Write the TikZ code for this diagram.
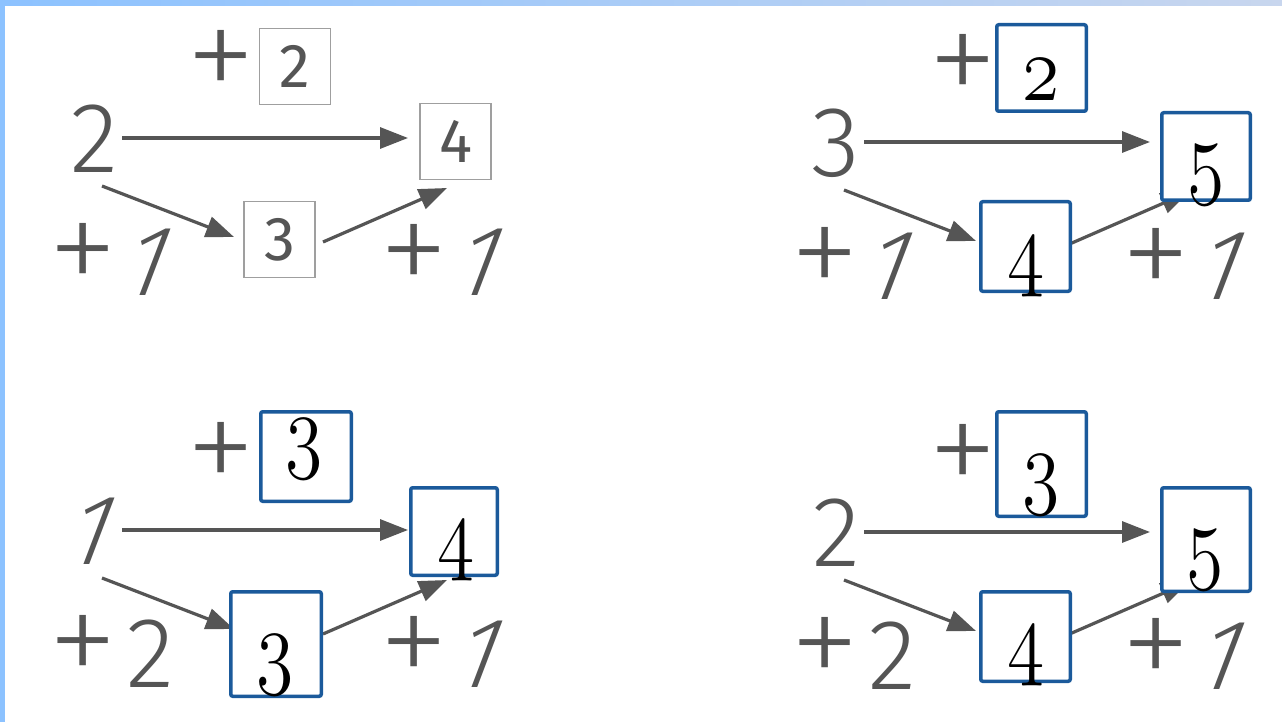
\RequirePackage{fix-cm}
\documentclass[tikz,border=0pt]{standalone}
\usepackage{fontspec}
\usepackage{graphicx}
\usetikzlibrary{arrows.meta}
\newfontfamily\wsfont{Fira Sans Light}
\newfontfamily\plusfont{Fira Sans ExtraLight}
\newfontfamily\boxfont{Fira Sans}
\definecolor{wsgray}{HTML}{555555}
\definecolor{bbox}{HTML}{1B5A9B}
\definecolor{barblue}{HTML}{8CC2FF}
\definecolor{barpale}{HTML}{C8D6EE}
\newcommand\osn[1]{\scalebox{0.8}[1]{\usefont{OML}{cmm}{m}{it}#1}}
\tikzset{
  wsnum/.style={text=wsgray, font=\wsfont\fontsize{100}{100}\selectfont, inner sep=0pt},
  wsone/.style={wsnum, xslant=0.38, transform shape},
  wsplus/.style={text=wsgray, font=\plusfont\fontsize{145}{145}\selectfont, inner sep=1pt},
  warrow/.style={draw=wsgray, line width=3.2pt, -{Triangle[length=28pt,width=21pt]}},
  graybox/.style={draw=gray!75, fill=white, line width=1.5pt, minimum width=71pt,
    minimum height=76pt, inner sep=0pt, text=wsgray, font=\boxfont\fontsize{62}{62}\selectfont},
  bluebox/.style={draw=bbox, fill=white, line width=3.5pt, rounded corners=2pt, inner sep=0pt},
  bdig/.style={inner sep=0pt, text=black, font=\fontsize{95}{95}\selectfont}
}
\newcommand\wspanel[5]{%
  \node[shift={(94,139)},#3] (#1s) at (0,0) {#2};
  \coordinate (#1h0) at (122,138);
  \coordinate (#1h1) at (408,138);
  \coordinate (#1d0) at (102,186);
  \coordinate (#1d1) at (234,237);
  \coordinate (#1o0) at (323,242);
  \coordinate (#1o1) at (447,188);
  \draw[warrow] (#1h0) -- (#1h1);
  \draw[warrow] (#1d0) -- (#1d1);
  \draw[warrow] (#1o0) -- (#1o1);
  \node[wsplus] (#1p) at (221,67) {+};
  \node[wsplus] (#1lp) at (83,260) {+};
  \node[shift={(150,262)},#5] (#1la) at (0,0) {#4};
  \node[wsplus] (#1rp) at (414,261) {+};
  \node[shift={(482,262)},wsone] (#1ra) at (0,0) {1};
}
\begin{document}
\begin{tikzpicture}[x=1pt,y=-1pt]
  \useasboundingbox (0,0) rectangle (1282,722);
  \fill[white] (0,0) rectangle (1282,722);
  \shade[left color=barblue, right color=barpale] (0,0) rectangle (1282,6);
  \fill[barblue] (0,0) rectangle (5,722);

  % panel 1
  \wspanel{a}{2}{wsnum}{1}{wsone}
  \node[graybox] (ag2) at (295,66.5) {2};
  \node[graybox] (ag4) at (455.5,141.5) {4};
  \node[graybox] (ag3) at (279.5,239.5) {3};

  % panel 2
  \begin{scope}[shift={(742,4)}]
    \wspanel{b}{3}{wsnum}{1}{wsone}
  \end{scope}
  \node[bluebox, minimum width=89.5pt, minimum height=86.5pt] (bb2) at (1041.5,68) {};
  \node[bluebox, minimum width=88.5pt, minimum height=87.5pt] (bb5) at (1206,156.5) {};
  \node[bluebox, minimum width=89.5pt, minimum height=89.5pt] (bb4) at (1025.5,246.5) {};
  \node[bdig] (bt2) at (1041,80) {\osn{2}};
  \node[bdig] (bt5) at (1206,175) {\osn{5}};
  \node[bdig] (bt4) at (1026,267) {\osn{4}};

  % panel 3
  \begin{scope}[shift={(0,392)}]
    \wspanel{c}{1}{wsone}{2}{wsnum}
  \end{scope}
  \node[bluebox, minimum width=90.5pt, minimum height=89.5pt] (cb3t) at (306,456.5) {};
  \node[bluebox, minimum width=86.5pt, minimum height=87.5pt] (cb4) at (454,531.5) {};
  \node[bluebox, minimum width=90.5pt, minimum height=104.5pt] (cb3b) at (276,644) {};
  \node[bdig] (ct3t) at (304,449) {\osn{3}};
  \node[bdig] (ct4) at (456,551) {\osn{4}};
  \node[bdig] (ct3b) at (275,665) {\osn{3}};

  % panel 4
  \begin{scope}[shift={(742,394)}]
    \wspanel{d}{2}{wsnum}{2}{wsnum}
  \end{scope}
  \node[bluebox, minimum width=89.5pt, minimum height=104.5pt] (db3) at (1041.5,464) {};
  \node[bluebox, minimum width=88.5pt, minimum height=103.5pt] (db5) at (1206,539.5) {};
  \node[bluebox, minimum width=89.5pt, minimum height=89.5pt] (db4) at (1025.5,636.5) {};
  \node[bdig] (dt3) at (1041,485) {\osn{3}};
  \node[bdig] (dt5) at (1205,560) {\osn{5}};
  \node[bdig] (dt4) at (1026,656) {\osn{4}};
\end{tikzpicture}
\end{document}
